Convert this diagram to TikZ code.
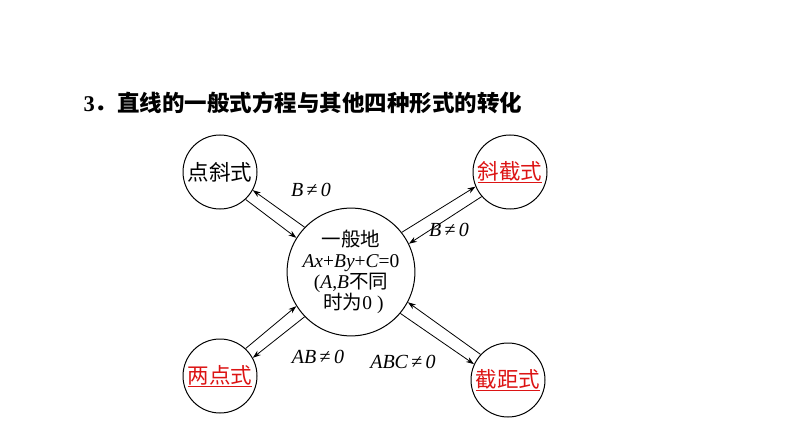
\documentclass[tikz,border=0pt]{standalone}
\usepackage{fontspec}
\setmainfont{Liberation Serif}
\newfontfamily\cjk{Noto Sans CJK SC}
\usetikzlibrary{arrows.meta}
\definecolor{redt}{RGB}{220,20,20}
\newcommand{\nq}{\,{\upshape ≠}\,}
\begin{document}
\begin{tikzpicture}[x=1pt,y=-1pt,
  circ/.style={circle,draw,line width=1pt,minimum size=74pt,inner sep=0pt,font=\cjk\fontsize{21.5}{23}\selectfont},
  lbl/.style={font=\fontsize{20}{22}\selectfont\itshape},
  arr/.style={-{Stealth[length=8pt,width=5.5pt]},line width=0.8pt}]
\useasboundingbox (0,0) rectangle (794,446);
\node[anchor=west,font=\cjk\bfseries\fontsize{22.5}{24}\selectfont] (t) at (80,103) {{\rmfamily 3}．直线的一般式方程与其他四种形式的转化};
\node[circ,minimum size=118pt,align=center,font=\fontsize{19.5}{21}\selectfont] (c) at (351,272)
 {{\cjk 一般地}\\{\itshape Ax}+{\itshape By}+{\itshape C}=0\\({\itshape A},{\itshape B}{\cjk 不同}\\ \ {\cjk 时为}0 )};
\node[circ] (tl) at (220,172) {点斜式};
\node[circ] (tr) at (510,172) {\color{redt}\underline{斜截式}};
\node[circ] (bl) at (220,376) {\color{redt}\underline{两点式}};
\node[circ] (br) at (508,380) {\color{redt}\underline{截距式}};
% top-left, dir 142
\draw[arr] (c.136) -- (tl.-29);
\draw[arr] (tl.-47) -- (c.148);
% top-right, dir 32
\draw[arr] (c.38) -- (tr.203);
\draw[arr] (tr.221) -- (c.26);
% bottom-left, dir 218
\draw[arr] (bl.47) -- (c.212);
\draw[arr] (c.224) -- (bl.29);
% bottom-right, dir -34
\draw[arr] (c.-40) -- (br.155);
\draw[arr] (br.137) -- (c.-28);
\node[lbl] (l1) at (311,190) {B\nq 0};
\node[lbl] (l2) at (449,230) {B\nq 0};
\node[lbl] (l3) at (318,357) {AB\nq 0};
\node[lbl] (l4) at (403,362) {ABC\nq 0};
\end{tikzpicture}
\end{document}
